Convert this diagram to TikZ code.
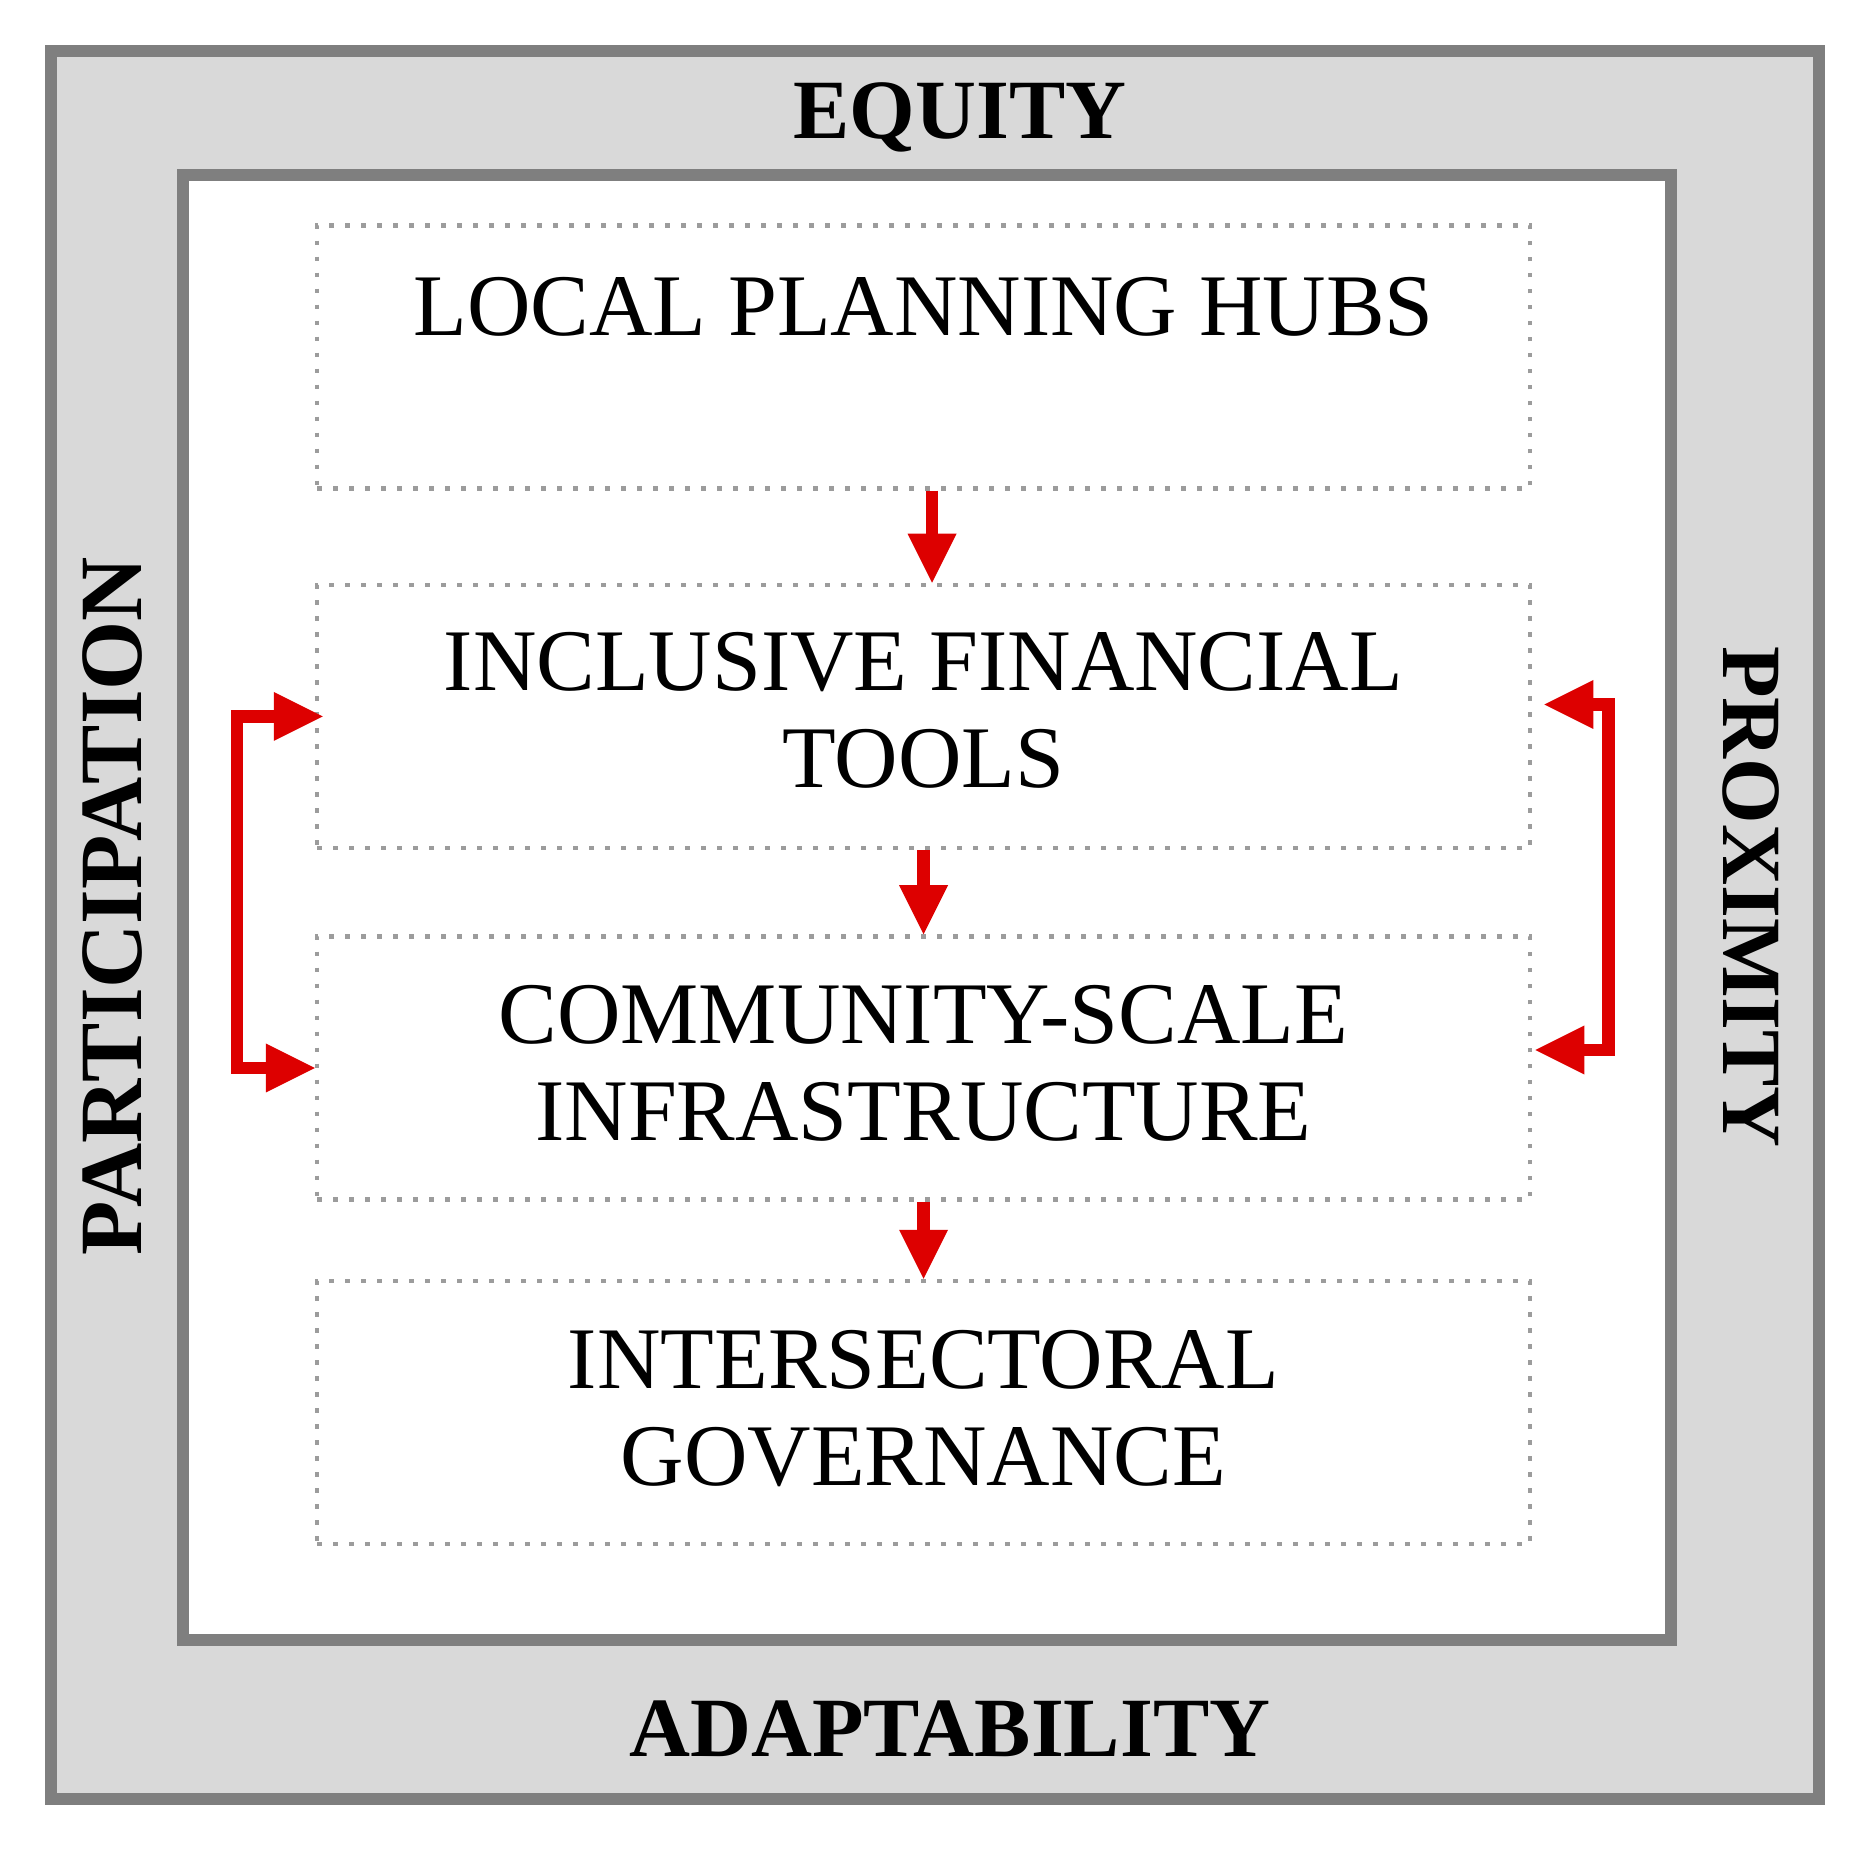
\documentclass[tikz,border=0pt]{standalone}
\usepackage{fontspec}
\setmainfont{Liberation Serif}
\usepackage{tikz}
\usetikzlibrary{arrows.meta, positioning, calc}
\definecolor{FrameGray}{HTML}{7F7F7F}
\definecolor{BandGray}{HTML}{D9D9D9}
\definecolor{DotGray}{HTML}{9C9C9C}
\definecolor{FlowRed}{HTML}{DD0000}
\tikzset{
  frame box/.style={rectangle, draw=FrameGray, line width=0.12cm, inner sep=0pt},
  stage box/.style={rectangle, draw=DotGray, line width=0.045cm,
                    dash pattern=on 0.045cm off 0.115cm, inner sep=0pt,
                    minimum width=12.13cm, minimum height=2.63cm},
  stage text/.style={anchor=north, align=center, inner sep=0pt,
                     font=\fontsize{25}{27.6}\selectfont},
  pillar text/.style={anchor=base, inner sep=0pt,
                      font=\fontsize{24}{28}\selectfont\bfseries},
  flow edge/.style={-{Triangle[length=0.49cm, width=0.49cm, line width=0pt]},
                    draw=FlowRed, line width=0.125cm},
  loop edge/.style={{Triangle[length=0.49cm, width=0.49cm, line width=0pt]}-{Triangle[length=0.49cm, width=0.49cm, line width=0pt]},
                    draw=FlowRed, line width=0.125cm},
}

\begin{document}
\begin{tikzpicture}
  \useasboundingbox (0,0) rectangle (18.64,-18.51);
  % frames
  \node[frame box, fill=BandGray, minimum width=17.68cm, minimum height=17.48cm] (outer) at (9.35,-9.25) {};
  \node[frame box, fill=white, minimum width=14.88cm, minimum height=14.65cm] (inner) at (9.27,-9.075) {};
  % pillars
  \node[pillar text] (equity) at (9.60,-1.385) {EQUITY};
  \node[pillar text] (adapt) at (9.50,-17.56) {ADAPTABILITY};
  \node[pillar text, rotate=90, font=\fontsize{25.3}{28}\selectfont\bfseries] (partic) at (1.41,-9.06) {PARTICIPATION};
  \node[pillar text, rotate=-90] (prox) at (17.23,-8.97) {PROXIMITY};
  % stages
  \node[stage box] (hubs) at (9.235,-3.57) {};
  \node[stage box, below=0.92cm of hubs] (tools) {};
  \node[stage box, below=0.84cm of tools] (infra) {};
  \node[stage box, below=0.77cm of infra] (gov) {};
  \node[stage text] (hubs text) at ([yshift=-0.53cm]hubs.north) {LOCAL PLANNING HUBS};
  \node[stage text] (tools text) at ([yshift=-0.49cm]tools.north) {INCLUSIVE FINANCIAL\\TOOLS};
  \node[stage text] (infra text) at ([yshift=-0.50cm]infra.north) {COMMUNITY-SCALE\\INFRASTRUCTURE};
  \node[stage text] (gov text) at ([yshift=-0.51cm]gov.north) {INTERSECTORAL\\GOVERNANCE};
  % flows
  \draw[flow edge] ([xshift=0.085cm]hubs.south) -- ([xshift=0.085cm]tools.north);
  \draw[flow edge] (tools.south) -- (infra.north);
  \draw[flow edge] (infra.south) -- (gov.north);
  \draw[loop edge] ([xshift=0.08cm]tools.west) -- ++(-0.86,0) |- (infra.west);
  \draw[loop edge] ([shift={(0.12,0.12)}]tools.east) -- ++(0.64,0) |- ([shift={(0.03,0.18)}]infra.east);
\end{tikzpicture}
\end{document}
